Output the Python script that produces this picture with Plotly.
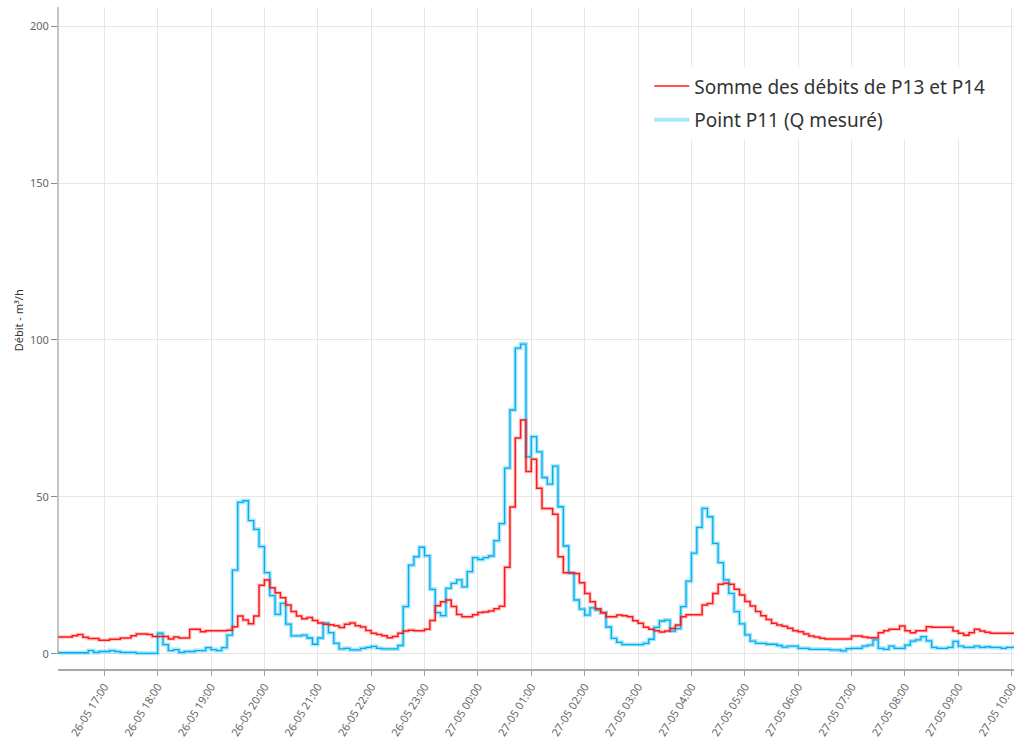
import pandas as pd
import plotly.graph_objects as go

# Flow readings, one value every 6 minutes from 26-05 16:06 to 27-05 10:00 (m³/h)
start_time = "2019-05-26 16:06"
step = "6min"

somme_p13_p14 = [
    5.4, 5.4, 5.4, 5.8, 6.2, 5.3, 4.9, 4.9, 4.4, 4.4,
    4.7, 4.7, 5.1, 5.1, 5.8, 6.4, 6.4, 6.2, 5.6, 5.6,
    5.6, 4.8, 5.4, 5.1, 5.1, 7.9, 7.9, 7.1, 7.4, 7.4,
    7.4, 7.4, 7.6, 8.7, 12.1, 10.8, 9.6, 12.1, 21.9, 23.6,
    21.1, 19.5, 17.9, 15.6, 13.5, 12.1, 11.2, 11.6, 10.7, 9.9,
    9.5, 9.3, 9.0, 8.4, 9.5, 9.9, 9.0, 8.6, 7.5, 6.6,
    6.2, 5.8, 5.2, 5.6, 6.6, 7.3, 7.6, 7.4, 7.4, 7.9,
    10.7, 15.4, 16.6, 17.2, 15.1, 12.6, 11.9, 11.9, 12.5, 13.2,
    13.4, 13.7, 14.4, 15.2, 27.6, 46.8, 68.8, 74.5, 58.1, 62.0,
    52.8, 46.3, 46.3, 44.5, 31.0, 25.9, 25.9, 25.6, 22.7, 19.3,
    16.6, 14.4, 13.1, 11.9, 11.9, 12.4, 12.2, 11.9, 10.6, 9.8,
    8.5, 7.9, 7.4, 7.0, 7.3, 8.1, 9.2, 11.9, 12.5, 12.5,
    12.5, 15.6, 16.1, 19.3, 22.2, 22.5, 22.2, 20.6, 18.8, 16.7,
    15.3, 13.5, 12.2, 11.0, 9.8, 9.2, 8.8, 8.2, 7.4, 7.1,
    6.4, 5.7, 5.4, 5.0, 4.8, 4.8, 4.8, 4.8, 4.8, 5.7,
    5.7, 5.4, 5.2, 5.2, 6.8, 7.4, 7.9, 7.9, 8.9, 7.4,
    6.8, 7.4, 7.4, 8.7, 8.5, 8.5, 8.5, 8.5, 7.3, 6.6,
    6.0, 6.8, 7.9, 7.3, 6.9, 6.6, 6.6, 6.6, 6.6, 6.6,
    6.6,
]

point_p11 = [
    0.4, 0.4, 0.4, 0.4, 0.4, 0.4, 1.1, 0.5, 0.8, 0.8,
    1.1, 0.8, 0.5, 0.5, 0.5, 0.2, 0.2, 0.2, 0.2, 6.6,
    3.0, 1.1, 1.4, 0.5, 0.8, 0.8, 1.1, 1.1, 2.0, 1.4,
    1.1, 2.0, 6.0, 26.7, 48.3, 48.8, 42.5, 39.7, 34.2, 25.9,
    18.6, 12.6, 16.1, 9.5, 5.8, 5.8, 6.0, 5.1, 3.1, 5.1,
    9.8, 6.8, 3.4, 1.6, 1.8, 1.3, 1.3, 1.8, 2.1, 2.4,
    1.8, 1.6, 1.6, 1.6, 2.7, 15.1, 28.3, 31.0, 34.0, 31.3,
    20.6, 13.2, 12.2, 20.9, 22.5, 23.6, 21.4, 26.2, 30.7, 30.1,
    30.7, 31.2, 36.1, 41.5, 59.2, 77.7, 97.4, 98.7, 62.8, 69.2,
    64.4, 56.2, 54.1, 59.8, 46.9, 34.4, 25.7, 17.2, 14.3, 12.4,
    14.7, 14.0, 13.2, 8.6, 5.0, 3.7, 3.0, 3.0, 3.0, 3.0,
    3.4, 4.7, 8.5, 10.5, 10.8, 7.3, 8.1, 15.1, 23.2, 32.1,
    40.3, 46.4, 43.7, 35.2, 29.1, 23.6, 19.3, 13.5, 9.6, 6.1,
    4.1, 3.4, 3.4, 3.1, 3.1, 2.7, 2.2, 2.5, 2.5, 1.8,
    1.8, 1.5, 1.5, 1.5, 1.5, 1.3, 1.3, 1.0, 1.7, 1.8,
    1.8, 2.5, 2.8, 4.5, 1.8, 1.5, 2.5, 1.8, 1.8, 2.8,
    4.1, 4.5, 5.5, 4.2, 2.1, 1.8, 1.8, 2.1, 4.0, 2.5,
    2.1, 2.1, 2.5, 2.1, 2.3, 2.1, 2.1, 1.8, 2.1, 2.1,
    2.1,
]

series_names = ["Somme des débits de P13 et P14", "Point P11 (Q mesuré)"]
y_ticks = [0, 50, 100, 150, 200]
y_title = "Débit - m³/h"
hour_ticks = pd.date_range("2019-05-26 17:00", "2019-05-27 10:00", freq="1h")
hour_labels = [t.strftime("%d-%m %H:%M") for t in hour_ticks]

times = pd.date_range(start_time, periods=len(point_p11), freq=step)

RED = "#ff1a1a"
BLUE = "#00b0f0"
FONT = "Noto Sans"

fig = go.Figure()

# soft halo under each step line
fig.add_trace(go.Scatter(
    x=times, y=point_p11, mode="lines", line_shape="hv",
    line=dict(color="rgba(0,176,240,0.33)", width=4),
    name=series_names[1], legendgroup="b", legendrank=2,
    hoverinfo="skip", showlegend=True,
))
fig.add_trace(go.Scatter(
    x=times, y=somme_p13_p14, mode="lines", line_shape="hv",
    line=dict(color="rgba(255,40,40,0.25)", width=3.6),
    name=series_names[0], legendgroup="r", hoverinfo="skip", showlegend=False,
))
fig.add_trace(go.Scatter(
    x=times, y=point_p11, mode="lines", line_shape="hv",
    line=dict(color=BLUE, width=1.3),
    name=series_names[1], legendgroup="b", showlegend=False,
))
fig.add_trace(go.Scatter(
    x=times, y=somme_p13_p14, mode="lines", line_shape="hv",
    line=dict(color=RED, width=1.5),
    name=series_names[0], legendgroup="r", legendrank=1, showlegend=True,
))

fig.update_layout(
    width=1019, height=742,
    margin=dict(l=58, r=0, t=7, b=73),
    paper_bgcolor="white", plot_bgcolor="white",
    font=dict(family=FONT, color="#666666", size=11),
    showlegend=True,
    legend=dict(
        x=0.6185, y=0.909, xanchor="left", yanchor="top",
        bgcolor="white", borderwidth=0,
        font=dict(family=FONT, size=19, color="#333333"),
        traceorder="grouped", tracegroupgap=6,
        itemwidth=35,
    ),
    shapes=[
        # white panel behind the legend
        dict(type="rect", xref="paper", yref="paper",
             x0=0.6077, x1=0.980, y0=0.784, y1=0.92,
             fillcolor="white", line=dict(width=0), layer="between"),
        # vertical axis line, from 0 up to the top
        dict(type="line", xref="paper", yref="y", x0=0, x1=0, y0=0, y1=206,
             line=dict(color="#8a8a8a", width=1)),
    ],
    annotations=[
        dict(text=y_title, xref="paper", yref="paper",
             x=-0.0416, y=0.527, xanchor="center", yanchor="middle",
             textangle=-90, showarrow=False,
             font=dict(family=FONT, size=11, color="#333333")),
    ],
)

fig.update_xaxes(
    type="date",
    range=["2019-05-26 16:08:00", "2019-05-27 10:02:34"],
    tickvals=hour_ticks, ticktext=hour_labels,
    tickangle=-58, ticklabeloverflow="allow",
    ticks="outside", ticklen=5, tickcolor="#a0a0a0",
    showline=True, linecolor="#a8a8a8", linewidth=2,
    showgrid=True, gridcolor="#e6e6e6", gridwidth=1,
    zeroline=False,
    tickfont=dict(family=FONT, size=11, color="#666666"),
)
fig.update_yaxes(
    range=[-4.78, 206.05],
    tickvals=y_ticks,
    ticks="outside", ticklen=6, tickcolor="#8a8a8a",
    showline=False,
    showgrid=True, gridcolor="#e6e6e6", gridwidth=1,
    zeroline=False,
    tickfont=dict(family=FONT, size=11, color="#666666"),
)

fig.write_html("out.html")
